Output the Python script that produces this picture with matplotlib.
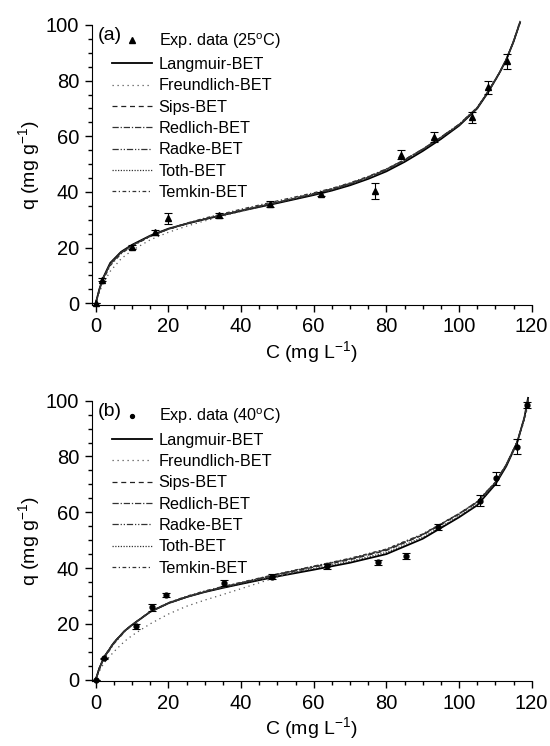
import matplotlib
matplotlib.use("Agg")
import matplotlib.pyplot as plt
from matplotlib.lines import Line2D
from matplotlib.ticker import MultipleLocator

plt.rcParams['font.family'] = ['Liberation Sans', 'DejaVu Sans']
plt.rcParams['mathtext.default'] = 'regular'

model_names = ["Langmuir-BET", "Freundlich-BET", "Sips-BET", "Redlich-BET",
               "Radke-BET", "Toth-BET", "Temkin-BET"]

# (a) 25 C experimental data
exp_c_a = [0, 1.8, 10.1, 16.3, 19.8, 33.9, 48.0, 61.9, 76.9, 84.0, 93.0, 103.5, 108.1, 113.1]
exp_q_a = [0, 8.5, 20.3, 25.5, 30.5, 31.6, 35.6, 39.3, 40.4, 53.4, 59.8, 66.8, 77.6, 86.9]
exp_err_a = [0, 0.5, 0.8, 1.0, 2.0, 1.0, 1.0, 0.7, 3.0, 1.7, 1.8, 1.9, 2.3, 2.6]

# (a) model curves
fit_c_a = [0, 1, 2, 4, 7, 10, 15, 20, 25, 30, 40, 50, 60, 65, 70, 75, 80, 85, 90, 95, 100, 105, 108, 111, 113, 115, 116.8]
langmuir_a = [0, 5, 9, 14.5, 18.5, 21, 24.3, 26.8, 28.6, 30.2, 33.2, 36, 38.9, 40.5, 42.4, 44.7, 47.4, 50.8, 54.7, 59, 63.8, 70, 75.8, 82.5, 87.5, 94, 101]
freundlich_a = [0, 4, 7, 11.5, 16, 19, 22.8, 25.5, 27.7, 29.6, 33, 36.3, 39.4, 41.1, 43.1, 45.4, 48.1, 51.5, 55.3, 59.5, 64.2, 70.2, 76, 82.5, 87.8, 94.5, 101.5]
sips_a = [0, 5, 8.8, 14.2, 18.3, 20.8, 24.1, 26.6, 28.5, 30.2, 33.3, 36.2, 39.1, 40.8, 42.8, 45.1, 47.9, 51.3, 55.2, 59.5, 64.1, 70.2, 76, 82.5, 87.5, 94, 101]
redlich_a = [0, 4.8, 8.7, 14, 18.1, 20.7, 24.1, 26.6, 28.6, 30.3, 33.4, 36.3, 39.3, 41, 43, 45.3, 48.1, 51.5, 55.4, 59.7, 64.3, 70.4, 76.2, 82.6, 87.6, 94, 100.8]
radke_a = [0, 4.9, 8.8, 14.2, 18.2, 20.8, 24.2, 26.7, 28.6, 30.3, 33.4, 36.4, 39.4, 41.1, 43.1, 45.4, 48.2, 51.6, 55.4, 59.7, 64.3, 70.3, 76.1, 82.5, 87.5, 94, 100.8]
toth_a = [0, 5, 9, 14.4, 18.4, 20.9, 24.2, 26.7, 28.6, 30.2, 33.3, 36.2, 39.1, 40.7, 42.7, 45, 47.8, 51.2, 55.1, 59.4, 64, 70.2, 76, 82.6, 87.6, 94.2, 101]
temkin_a = [0, 4.5, 8.2, 13.5, 17.8, 20.5, 24, 26.7, 28.8, 30.6, 33.8, 36.8, 39.7, 41.3, 43.3, 45.6, 48.3, 51.6, 55.4, 59.6, 64.1, 70, 75.9, 82.3, 87.4, 94, 101]

# (b) 40 C experimental data
exp_c_b = [0, 2.3, 11.1, 15.4, 19.3, 35.3, 48.6, 63.7, 77.8, 85.3, 94.3, 105.7, 110.1, 115.9, 118.7]
exp_q_b = [0, 7.6, 19.1, 25.9, 30.4, 34.6, 36.9, 40.6, 42.0, 44.4, 54.7, 64.1, 72.2, 83.5, 98.5]
exp_err_b = [0, 0.3, 0.8, 1.2, 0.8, 1.0, 0.8, 1.0, 1.0, 1.0, 1.2, 2.0, 2.4, 2.7, 1.0]

# (b) model curves
fit_c_b = [0, 1, 2.3, 5, 8, 10, 15, 20, 25, 30, 35, 40, 50, 60, 70, 80, 90, 100, 105, 110, 113, 116, 118, 119]
langmuir_b = [0, 4, 8, 13.2, 17.5, 19.6, 24.3, 27.4, 29.6, 31.4, 32.9, 34.3, 37, 39.4, 41.9, 45, 50.5, 58.2, 62.5, 70, 76.5, 85, 94, 101]
freundlich_b = [0, 3, 6, 10, 13.8, 15.8, 20, 23.5, 26.3, 28.5, 30.5, 32.6, 36.8, 40.4, 43.4, 46.8, 52.2, 59.5, 63.8, 70.8, 77, 85, 93, 98.5]
sips_b = [0, 4.2, 8.2, 13.4, 17.6, 19.7, 24.4, 27.4, 29.6, 31.5, 33.1, 34.6, 37.6, 40.3, 43, 46.3, 51.8, 59.3, 63.5, 70.6, 77, 85.3, 94, 100.5]
redlich_b = [0, 4.1, 8.1, 13.3, 17.5, 19.6, 24.3, 27.3, 29.6, 31.5, 33.1, 34.7, 37.8, 40.6, 43.3, 46.6, 52, 59.5, 63.8, 70.8, 77.2, 85.3, 93.8, 100.2]
radke_b = [0, 4.1, 8.1, 13.3, 17.5, 19.6, 24.3, 27.3, 29.6, 31.5, 33.2, 34.7, 37.7, 40.5, 43.2, 46.5, 52, 59.4, 63.7, 70.7, 77.1, 85.2, 93.8, 100.2]
toth_b = [0, 4, 8, 13.2, 17.5, 19.6, 24.3, 27.4, 29.6, 31.4, 33, 34.4, 37.2, 39.8, 42.4, 45.6, 51, 58.6, 62.9, 70.2, 76.7, 85, 93.8, 100.8]
temkin_b = [0, 3.6, 7.5, 12.8, 17.2, 19.5, 24.4, 27.6, 29.9, 31.8, 33.4, 34.9, 37.9, 40.7, 43.5, 46.8, 52.2, 59.5, 63.7, 70.7, 77, 85.1, 93.6, 100]

styles = [
    dict(ls='-', lw=1.3, color='black'),
    dict(ls=(0, (1, 3)), lw=0.9, color='#555555'),
    dict(ls=(0, (4, 3)), lw=0.9, color='#222222'),
    dict(ls=(0, (5, 1.5, 1, 1.5)), lw=0.9, color='#333333'),
    dict(ls=(0, (5, 1.5, 1, 1.5, 1, 1.5)), lw=0.9, color='#333333'),
    dict(ls=(0, (1, 1.2)), lw=0.9, color='#333333'),
    dict(ls=(0, (3, 2, 1, 2)), lw=0.9, color='#333333'),
]


def draw_panel(ax, tag, exp_label, marker, ms, ec, eq, err, fc, curves, ybottom):
    ax.errorbar(ec, eq, yerr=err, fmt=marker, color='black', ms=ms,
                capsize=3, elinewidth=0.8, capthick=0.8, clip_on=False, zorder=5)
    # legend shows the marker only, no error bar
    handles = [Line2D([], [], ls='none', marker=marker, color='black', ms=ms * 0.8)]
    for name, q, st in zip(model_names, curves, styles):
        ln, = ax.plot(fc, q, label=name, clip_on=False, **st)
        handles.append(ln)
    labels = [exp_label] + model_names
    ax.legend(handles, labels, loc='upper left', bbox_to_anchor=(0.047, 0.978),
              frameon=False, fontsize=11.7, handlelength=2.45, handletextpad=0.4,
              labelspacing=0.39, borderpad=0, borderaxespad=0, numpoints=1)
    ax.text(0.013, 0.992, tag, transform=ax.transAxes, fontsize=14, va='top', ha='left')

    ax.set_xlim(-1.1, 120)
    ax.set_ylim(ybottom, 100)
    ax.xaxis.set_major_locator(MultipleLocator(20))
    ax.xaxis.set_minor_locator(MultipleLocator(5))
    ax.yaxis.set_major_locator(MultipleLocator(20))
    ax.yaxis.set_minor_locator(MultipleLocator(5))
    ax.tick_params(which='major', direction='out', length=5, width=1, labelsize=14.5, pad=4)
    ax.tick_params(which='minor', direction='out', length=3, width=1)
    ax.spines['top'].set_visible(False)
    ax.spines['right'].set_visible(False)
    ax.set_xlabel('C (mg L$^{-1}$)', fontsize=14, labelpad=2)
    ax.set_ylabel('q (mg g$^{-1}$)', fontsize=14, labelpad=3)


fig = plt.figure(figsize=(5.5, 7.46), dpi=100)
ax_a = fig.add_axes([0.1667, 0.5912, 0.8, 0.3753])
ax_b = fig.add_axes([0.1667, 0.0871, 0.8, 0.3758])

draw_panel(ax_a, '(a)', 'Exp. data (25$^{o}$C)', '^', 5,
           exp_c_a, exp_q_a, exp_err_a, fit_c_a,
           [langmuir_a, freundlich_a, sips_a, redlich_a, radke_a, toth_a, temkin_a], -0.6)
draw_panel(ax_b, '(b)', 'Exp. data (40$^{o}$C)', 'o', 3.5,
           exp_c_b, exp_q_b, exp_err_b, fit_c_b,
           [langmuir_b, freundlich_b, sips_b, redlich_b, radke_b, toth_b, temkin_b], -0.5)

fig.savefig('out.png', dpi=100)
